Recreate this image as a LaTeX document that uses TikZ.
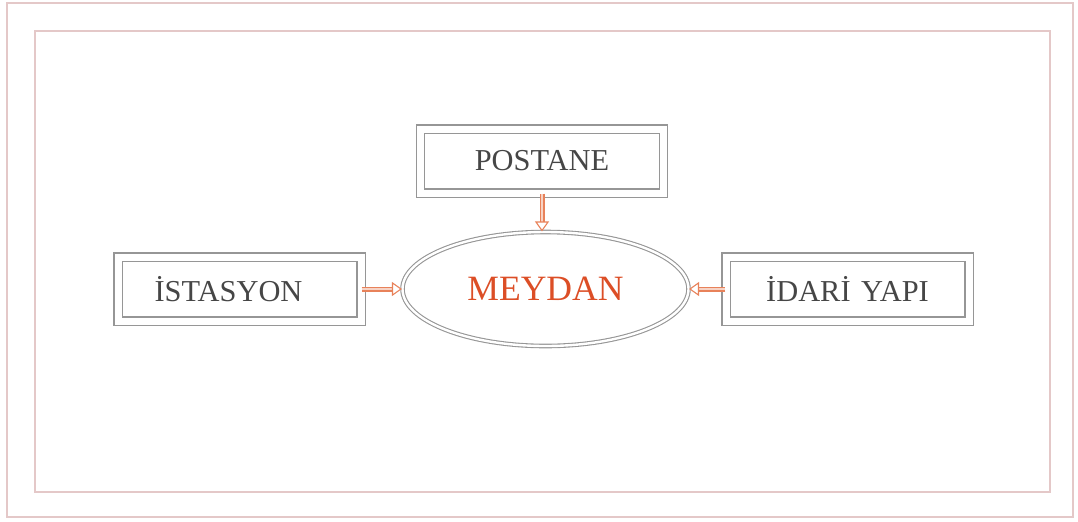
\documentclass[tikz,border=0pt]{standalone}
\usepackage{fontspec}
\setmainfont{Liberation Serif}
\usepackage{tikz}
\usetikzlibrary{arrows.meta}
\usetikzlibrary{shapes.geometric}
\usetikzlibrary{calc}

\definecolor{framec}{RGB}{228,200,200}
\definecolor{boxc}{RGB}{150,150,150}
\definecolor{textc}{RGB}{70,70,70}
\definecolor{arrowc}{RGB}{232,130,90}
\definecolor{meyc}{RGB}{220,78,38}

\begin{document}
\begin{tikzpicture}[x = 0.5pt, y = -0.5pt]
			\useasboundingbox (0, 0) rectangle (1078, 521);
			
			\draw [framec, line width = 0.9pt] (7, 3) rectangle (1073, 517);
			\draw [framec, line width = 0.7pt] (35, 31) rectangle (1050, 492);
			
			\begin{scope}[every node/.style={rectangle, draw = boxc, line width = 0.55pt, double = white, double distance = 3.5pt, text = textc, font = \fontsize{15.2}{18}\selectfont, inner sep = 0pt, minimum width = 121.5pt, minimum height = 32pt}]
			\node (post) at (542, 161) {POSTANE};
			\node (ist) at (239.5, 289) {İSTASYON\hspace*{11pt}};
			\node (idr) at (847.5, 289) {İDARİ\hspace{1.5pt} YAPI};
			\end{scope}
			
			\begin{scope}[every node/.style={ellipse, draw = boxc, line width = 0.55pt, double = white, double distance = 1.2pt, inner sep = 0pt, minimum width = 143pt, minimum height = 57pt}]
			\node (mey) at (545.5, 289) {\fontsize{17.8}{20}\selectfont\color{meyc} MEYDAN};
			\end{scope}
			
			\begin{scope}[>={Triangle[open, length = 5pt, width = 7pt]},
			every edge/.style = {draw = arrowc, line width = 0.55pt, double = arrowc!35, double distance = 1.4pt}]
			\path [->] 	(post.south) edge node {} (post.south |- mey.north)
			(ist) edge node {} (mey)
			(idr) edge node {} (mey);
			\end{scope}
			
\end{tikzpicture}
\end{document}
